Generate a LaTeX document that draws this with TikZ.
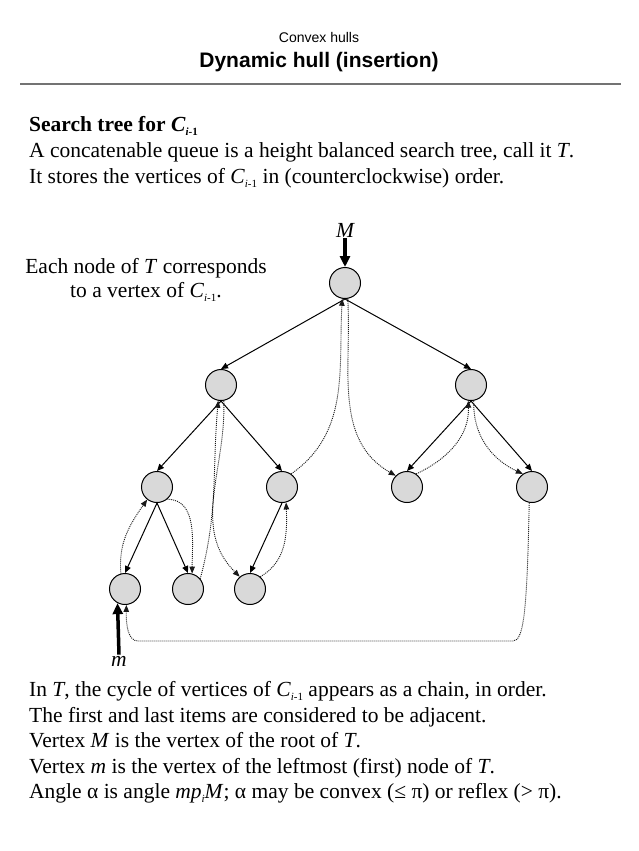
\documentclass[tikz,border=0pt]{standalone}
\usepackage{fontspec}
\setmainfont{Liberation Serif}
\setsansfont{Liberation Sans}
\usepackage{tikz}
\usetikzlibrary{arrows.meta}

\newcommand{\lowsub}[1]{\raisebox{-4pt}{\fontsize{11}{12}\selectfont #1}}
\newcommand{\Cim}{\textit{C}\lowsub{\textit{i}-1}}

\tikzset{
  vertex/.style={circle,draw,line width=1pt,fill=gray!30,minimum size=31pt,inner sep=0pt},
  treeedge/.style={line width=1pt,-{Triangle[length=7pt,width=6pt]}},
  inorder/.style={dash pattern=on 1pt off 1pt,line width=0.9pt,draw=black!90,-{Triangle[length=7pt,width=5.5pt]}},
  pointer/.style={line width=3.5pt,-{Triangle[length=11pt,width=10pt]}},
  txt/.style={anchor=base west,inner sep=0pt,font=\fontsize{21.5}{25}\selectfont},
}

\begin{document}
\begin{tikzpicture}[x=1pt,y=1pt]
\useasboundingbox (0,0) rectangle (638,-851);

% header
\node[font=\fontsize{14}{16}\selectfont\sffamily,anchor=base] (sub) at (319,-43) {Convex hulls};
\node[font=\fontsize{21}{24}\selectfont\sffamily\bfseries,anchor=base] (title) at (319,-67) {Dynamic hull (insertion)};
\draw[line width=2.2pt,gray!90!black] (20,-84) -- (621,-84);

% text above
\node[txt,font=\fontsize{21.5}{25}\selectfont\bfseries] (head) at (29,-131) {Search tree for \Cim};
\node[txt] (line1) at (29,-157) {A concatenable queue is a height balanced search tree, call it \textit{T}.};
\node[txt] (line2) at (29,-183) {It stores the vertices of \Cim{} in (counterclockwise) order.};
\node[align=center,inner sep=0pt,font=\fontsize{21.5}{24}\selectfont] (note) at (146,-280)
  {Each node of \textit{T} corresponds\\to a vertex of \Cim.};

% the tree T
\node[vertex] (root) at (345,-283) {};
\node[vertex] (l) at (221,-385) {};
\node[vertex] (r) at (471,-385) {};
\node[vertex] (ll) at (157,-487) {};
\node[vertex] (lr) at (282,-487) {};
\node[vertex] (rl) at (407,-487) {};
\node[vertex] (rr) at (532,-487) {};
\node[vertex] (lll) at (125,-589) {};
\node[vertex] (llr) at (188,-589) {};
\node[vertex] (lrl) at (250,-589) {};

\foreach \a/\b in {root/l,root/r,l/ll,l/lr,r/rl,r/rr,ll/lll,ll/llr,lr/lrl}
  \draw[treeedge] (\a.south) -- (\b.north);

% chain of vertices, in order
\draw[inorder] (lll.105) to[out=95,in=235] (ll.232);
\draw[inorder] (ll.-50) to[out=0,in=90] (llr.75);
\draw[inorder] (llr.40) to[out=75,in=-95] (l.-100);
\draw[inorder] (l.-80) to[out=-88,in=135] (lrl.130);
\draw[inorder] (lrl.50) to[out=30,in=-88] (lr.-75);
\draw[inorder] (lr.55) to[out=35,in=-93] (root.-100);
\draw[inorder] (root.-80) to[out=-87,in=150] (rl.135);
\draw[inorder] (rl.55) to[out=25,in=-88] (r.-100);
\draw[inorder] (r.-80) to[out=-92,in=155] (rr.125);
\coordinate (br) at (513,-641);
\coordinate (bl) at (138,-641);
\draw[inorder] (rr.-100) .. controls (527,-610) and (524,-641) .. (br) -- (bl)
  .. controls (128,-641) and (126,-625) .. (lll.-85);

% M and m
\node[font=\fontsize{21.5}{25}\selectfont\itshape,inner sep=1pt,anchor=base] (Mlab) at (345,-237) {M};
\draw[pointer] (Mlab.south) -- (root.north);
\node[font=\fontsize{21.5}{25}\selectfont\itshape,inner sep=1pt,anchor=base] (mlab) at (119,-666) {m};
\draw[pointer] (mlab.north) -- (lll.-118);

% text below
\node[txt] (line3) at (29,-696) {In \textit{T}, the cycle of vertices of \Cim{} appears as a chain, in order.};
\node[txt] (line4) at (29,-722) {The first and last items are considered to be adjacent.};
\node[txt] (line5) at (29,-747) {Vertex \textit{M} is the vertex of the root of \textit{T}.};
\node[txt] (line6) at (29,-773) {Vertex \textit{m} is the vertex of the leftmost (first) node of \textit{T}.};
\node[txt] (line7) at (29,-798) {Angle α is angle \textit{mp}\lowsub{\textit{i}}\textit{M}; α may be convex (≤ π) or reflex (> π).};
\end{tikzpicture}
\end{document}
